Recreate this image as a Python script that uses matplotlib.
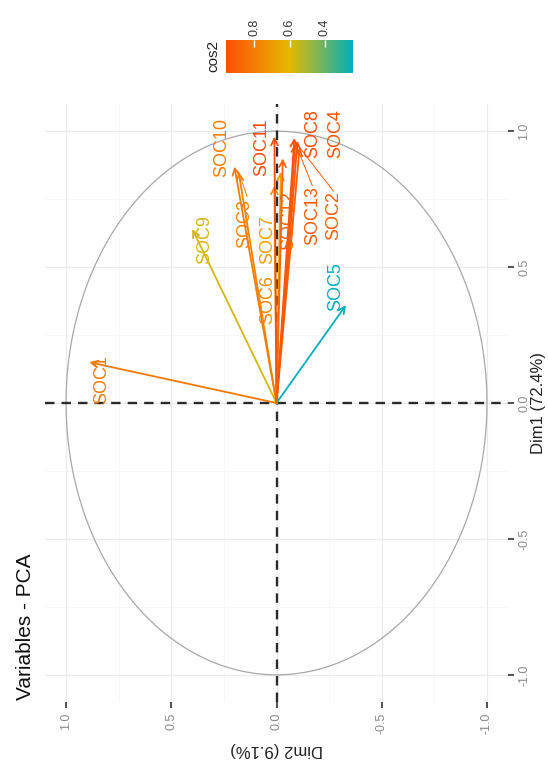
import numpy as np
import matplotlib
matplotlib.use("Agg")
import matplotlib.pyplot as plt
from matplotlib.colors import LinearSegmentedColormap, Normalize
from matplotlib.cm import ScalarMappable

plt.rcParams['font.family'] = ['Liberation Sans', 'DejaVu Sans']

# PCA variable coordinates (Dim1, Dim2) and cos2 quality
variables = ['SOC1', 'SOC2', 'SOC3', 'SOC4', 'SOC5', 'SOC6', 'SOC7',
             'SOC8', 'SOC9', 'SOC10', 'SOC11', 'SOC12', 'SOC13']
dim1 = [0.15, 0.94, 0.85, 0.965, 0.36, 0.80, 0.85, 0.975, 0.64, 0.87, 0.98, 0.90, 0.955]
dim2 = [0.89, -0.11, 0.18, -0.10, -0.33, 0.01, -0.02, -0.085, 0.40, 0.20, 0.01, -0.03, -0.09]
cos2 = [0.81, 0.90, 0.78, 0.94, 0.24, 0.75, 0.68, 0.96, 0.57, 0.80, 0.96, 0.88, 0.92]
cos2_ticks = [0.4, 0.6, 0.8]

# label anchors (Dim1, Dim2) and leader segment starts
label_pos = {
    'SOC1': (0.085, 0.83), 'SOC2': (0.69, -0.27), 'SOC3': (0.66, 0.15),
    'SOC4': (0.99, -0.28), 'SOC5': (0.43, -0.28), 'SOC6': (0.38, 0.04),
    'SOC7': (0.60, 0.04), 'SOC8': (0.99, -0.17), 'SOC9': (0.60, 0.34),
    'SOC10': (0.94, 0.26), 'SOC11': (0.94, 0.07), 'SOC12': (0.67, -0.06),
    'SOC13': (0.69, -0.17),
}
leaders = {'SOC3': (0.76, 0.14), 'SOC13': (0.80, -0.17), 'SOC2': (0.78, -0.27)}

cmap = LinearSegmentedColormap.from_list('cos2', ['#00AFBB', '#E7B800', '#FC4E07'])
norm = Normalize(vmin=min(cos2), vmax=max(cos2))

fig = plt.figure(figsize=(5.48, 7.71), dpi=100)
ax = fig.add_axes([45 / 548, 1 - 702 / 771, 463 / 548, 598 / 771])

# panel: x = Dim2 (reversed), y = Dim1
ax.set_xlim(1.1, -1.1)
ax.set_ylim(-1.1, 1.1)
major = [-1.0, -0.5, 0.0, 0.5, 1.0]
minor = [-0.75, -0.25, 0.25, 0.75]
ax.set_xticks(major)
ax.set_xticks(minor, minor=True)
ax.set_yticks(major)
ax.set_yticks(minor, minor=True)
ax.grid(which='major', color='#EBEBEB', lw=0.9)
ax.grid(which='minor', color='#F4F4F4', lw=0.5)
ax.set_axisbelow(True)
for s in ax.spines.values():
    s.set_visible(False)

ax.yaxis.tick_right()
ax.tick_params(which='minor', length=0)
ax.tick_params(which='major', length=4, width=1.2, color='#333333',
               labelcolor='#8a8a8a', labelsize=9)
ax.set_xticklabels(['-1.0', '-0.5', '0.0', '0.5', '1.0'], rotation=90, va='top')
ax.set_yticklabels(['-1.0', '-0.5', '0.0', '0.5', '1.0'], rotation=90, va='center')

ax.text(1.065, 0.5, 'Dim1 (72.4%)', transform=ax.transAxes, rotation=90,
        fontsize=12, color='#222222', ha='center', va='center')
ax.set_xlabel('Dim2 (9.1%)', rotation=180, fontsize=12, color='#222222', labelpad=6)

# correlation circle
t = np.linspace(0, 2 * np.pi, 400)
ax.plot(np.sin(t), np.cos(t), color='#A8A8A8', lw=0.9)

# origin lines
ax.axhline(0, color='#2a2a2a', lw=1.7, ls=(0, (4, 3)))
ax.axvline(0, color='#2a2a2a', lw=1.7, ls=(0, (4, 3)))

# arrows and labels
for name, d1, d2, q in zip(variables, dim1, dim2, cos2):
    c = cmap(norm(q))
    ax.annotate('', xy=(d2, d1), xytext=(0, 0),
                arrowprops=dict(arrowstyle='->', color=c, lw=1.3,
                                mutation_scale=12, shrinkA=0, shrinkB=0))
    ly, lx = label_pos[name]
    ax.text(lx, ly, name, color=c, fontsize=13, rotation=90,
            ha='center', va='center')
    if name in leaders:
        sy, sx = leaders[name]
        ax.plot([sx, d2], [sy, d1], color=c, lw=0.7)

# title
fig.text(26 / 548, 1 - 700 / 771, 'Variables - PCA', rotation=90,
         fontsize=15, ha='center', va='bottom', color='#111111')

# cos2 legend
cax = fig.add_axes([226 / 548, 1 - 73 / 771, 127 / 548, 33 / 771])
sm = ScalarMappable(norm=norm, cmap=cmap)
cb = fig.colorbar(sm, cax=cax, orientation='horizontal')
cb.outline.set_visible(False)
cax.invert_xaxis()
cb.set_ticks(cos2_ticks)
cax.xaxis.set_ticks_position('top')
cax.tick_params(axis='x', direction='in', length=5, color='white', width=1,
                labelsize=9, labelcolor='#333333', pad=3)
for lab in cax.get_xticklabels():
    lab.set_rotation(90)
    lab.set_va('bottom')
cax.text(-0.1, 0.5, 'cos2', transform=cax.transAxes, rotation=90,
         ha='center', va='center', fontsize=11, color='#222222')

fig.savefig('out.png', dpi=100)
